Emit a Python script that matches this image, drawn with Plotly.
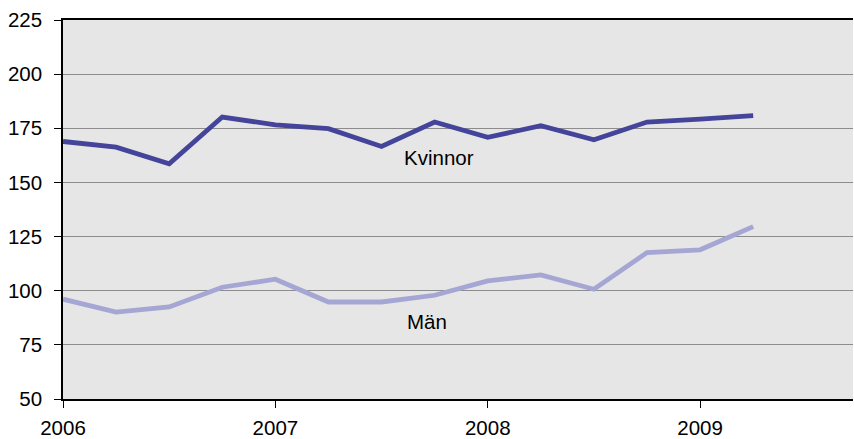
import plotly.graph_objects as go

quarters = [2006.0, 2006.25, 2006.5, 2006.75, 2007.0, 2007.25, 2007.5, 2007.75,
            2008.0, 2008.25, 2008.5, 2008.75, 2009.0, 2009.25]
kvinnor = [168.9, 166.3, 158.6, 180.2, 176.6, 174.8, 166.6, 177.9,
           170.8, 176.2, 169.7, 177.9, 179.2, 180.8]
man = [96.1, 90.1, 92.5, 101.6, 105.3, 94.8, 94.8, 97.9,
       104.5, 107.3, 100.7, 117.6, 118.9, 129.6]
year_ticks = [2006, 2007, 2008, 2009]
y_ticks = [50, 75, 100, 125, 150, 175, 200, 225]

FONT = "Liberation Sans, Arial, sans-serif"

fig = go.Figure()
fig.add_trace(go.Scatter(x=quarters, y=kvinnor, mode="lines", name="Kvinnor",
                         line=dict(color="#44449a", width=4.8), showlegend=False))
fig.add_trace(go.Scatter(x=quarters, y=man, mode="lines", name="Män",
                         line=dict(color="#a6a6d4", width=4.8), showlegend=False))

fig.add_annotation(x=2007.595, y=161.4, text="Kvinnor", showarrow=False,
                   xanchor="left", yanchor="middle", font=dict(size=20.5, color="black", family=FONT))
fig.add_annotation(x=2007.61, y=86.0, text="Män", showarrow=False,
                   xanchor="left", yanchor="middle", font=dict(size=20.5, color="black", family=FONT))

fig.update_layout(
    width=854, height=439,
    margin=dict(l=63, r=1, t=20, b=40, autoexpand=False),
    paper_bgcolor="white", plot_bgcolor="#e6e6e6",
    font=dict(family=FONT, size=20.5, color="black"),
    xaxis=dict(range=[2006, 2009.72], tickvals=year_ticks, ticktext=[str(y) for y in year_ticks],
               showgrid=False, zeroline=False, showline=True, linecolor="black", linewidth=1.5,
               mirror=True, ticks="outside", ticklen=7, tickcolor="black", tickwidth=1,
               ticklabelstandoff=3, automargin=False),
    yaxis=dict(range=[50, 225], tickvals=y_ticks, showgrid=True, gridcolor="#8c8c8c", gridwidth=1,
               zeroline=False, showline=True, linecolor="black", linewidth=1.5,
               ticks="outside", ticklen=7, tickcolor="black", tickwidth=1,
               ticklabelstandoff=8, automargin=False),
)

fig.write_html("out.html", config={"displayModeBar": False},
               post_script="document.body.style.margin='0px';document.body.style.overflow='hidden';")
